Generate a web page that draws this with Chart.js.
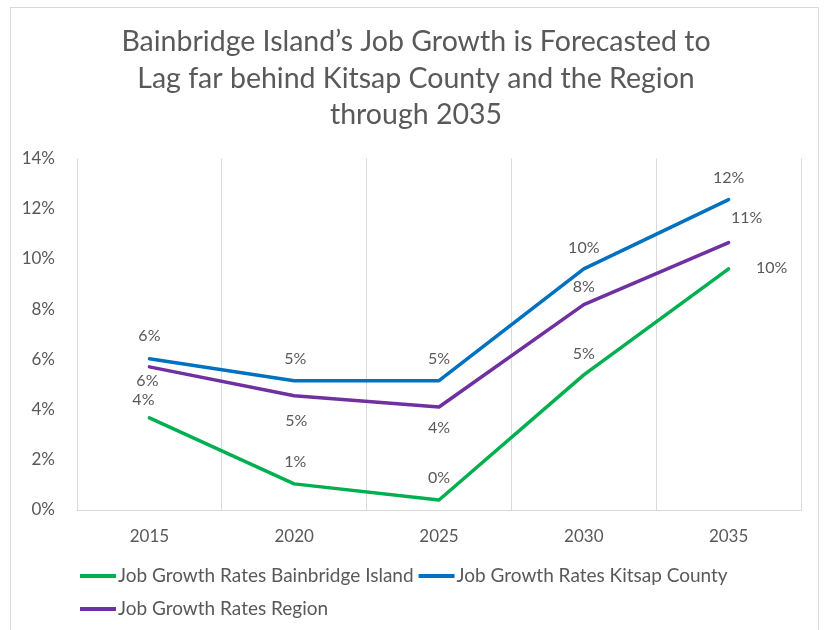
<!DOCTYPE html>
<html>
<head>
<meta charset="utf-8">
<script src="https://cdn.jsdelivr.net/npm/chart.js@4"></script>
<style>
  body { margin: 0; background: #fff; }
  #wrap { width: 825px; height: 630px; }
</style>
</head>
<body>
<div id="wrap"><canvas id="myChart" width="825" height="630"></canvas></div>
<script>
  var years = ['2015', '2020', '2025', '2030', '2035'];
  var bainbridge = [3.67, 1.04, 0.4, 5.38, 9.6];
  var kitsap = [6.02, 5.15, 5.15, 9.6, 12.36];
  var region = [5.7, 4.55, 4.1, 8.18, 10.65];
  var yTicks = [0, 2, 4, 6, 8, 10, 12, 14];

  var grey = '#595959';
  var fontName = 'Lato';

  // frame around the whole chart, like the Excel chart area border
  var framePlugin = {
    id: 'frame',
    afterLayout: function (chart) {
      // title in the original sits a little right of the canvas centre
      if (chart.titleBlock) chart.titleBlock.left += 31;
    },
    beforeDraw: function (chart) {
      var c = chart.ctx;
      c.save();
      c.fillStyle = '#fff';
      c.fillRect(0, 0, chart.width, chart.height);
      c.strokeStyle = '#d9d9d9';
      c.lineWidth = 1;
      c.strokeRect(10.5, 7.5, 808, 640);
      c.restore();
    }
  };

  // value labels next to each point
  var labelPlugin = {
    id: 'valueLabels',
    afterDatasetsDraw: function (chart) {
      var c = chart.ctx;
      c.save();
      c.font = '16px ' + fontName;
      c.fillStyle = grey;
      c.textAlign = 'center';
      c.textBaseline = 'middle';
      chart.data.datasets.forEach(function (ds, i) {
        var meta = chart.getDatasetMeta(i);
        meta.data.forEach(function (pt, j) {
          var off = ds.labelOffsets[j];
          c.fillText(Math.round(ds.data[j]) + '%', pt.x + off[0], pt.y + off[1]);
        });
      });
      c.restore();
    }
  };

  // legend drawn by hand so the second row starts at the left
  var legendPlugin = {
    id: 'sideLegend',
    afterDraw: function (chart) {
      var c = chart.ctx;
      var rows = [[0, 1], [2]];
      var rowY = [576, 609];
      c.save();
      c.font = '19px ' + fontName;
      c.textBaseline = 'middle';
      rows.forEach(function (row, r) {
        var x = 80;
        row.forEach(function (i) {
          var ds = chart.data.datasets[i];
          c.strokeStyle = ds.borderColor;
          c.lineWidth = 4;
          c.beginPath();
          c.moveTo(x, rowY[r]);
          c.lineTo(x + 36, rowY[r]);
          c.stroke();
          c.fillStyle = grey;
          c.fillText(ds.label, x + 38, rowY[r]);
          x += 38 + c.measureText(ds.label).width + 5;
        });
      });
      c.restore();
    }
  };

  var ctx = document.getElementById('myChart');

  new Chart(ctx, {
    type: 'line',
    data: {
      labels: years,
      datasets: [{
        label: 'Job Growth Rates Bainbridge Island',
        data: bainbridge,
        borderColor: '#00B050',
        labelOffsets: [[-6, -18], [1, -22], [0, -22], [0, -21], [43, -1]]
      }, {
        label: 'Job Growth Rates Kitsap County',
        data: kitsap,
        borderColor: '#0070C0',
        labelOffsets: [[0, -23], [1, -22], [0, -22], [0, -21], [0, -22]]
      }, {
        label: 'Job Growth Rates Region',
        data: region,
        borderColor: '#7030A0',
        labelOffsets: [[-2, 14], [2, 25], [0, 21], [0, -18], [18, -25]]
      }]
    },
    options: {
      responsive: false,
      animation: false,
      layout: { padding: { left: 0, right: 24, top: 0, bottom: 80 } },
      elements: {
        line: { borderWidth: 3.5, tension: 0, borderCapStyle: 'round', borderJoinStyle: 'round' },
        point: { radius: 0, hoverRadius: 0 }
      },
      plugins: {
        legend: { display: false },
        tooltip: { enabled: false },
        title: {
          display: true,
          text: ['Bainbridge Island\u2019s Job Growth is Forecasted to', 'Lag far behind Kitsap County and the Region', 'through 2035'],
          color: grey,
          font: { family: fontName, size: 28.5, weight: 'normal', lineHeight: 1.28 },
          padding: { top: 24, bottom: 25 }
        }
      },
      scales: {
        x: {
          offset: true,
          grid: { offset: true, color: '#d9d9d9', lineWidth: 1, drawTicks: false },
          border: { display: true, color: '#d9d9d9' },
          ticks: { color: grey, font: { family: fontName, size: 17 }, padding: 16 },
          afterFit: function (scale) { scale.height = 40; }
        },
        y: {
          min: 0,
          max: 14,
          grid: { display: false },
          border: { display: false },
          afterBuildTicks: function (scale) {
            scale.ticks = yTicks.map(function (v) { return { value: v }; });
          },
          ticks: {
            color: grey,
            font: { family: fontName, size: 17 },
            padding: 14,
            callback: function (v) { return v + '%'; }
          },
          afterFit: function (scale) { scale.width = 77; }
        }
      }
    },
    plugins: [framePlugin, labelPlugin, legendPlugin]
  });
</script>
</body>
</html>
